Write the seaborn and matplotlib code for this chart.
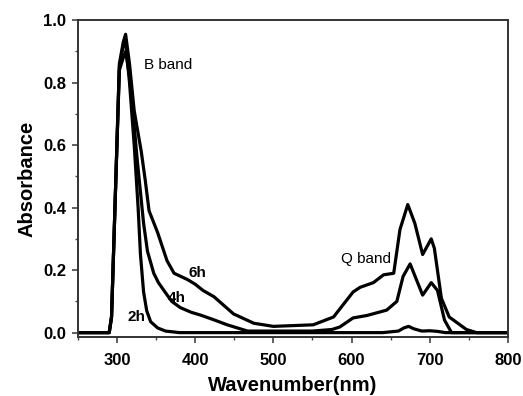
import numpy as np
import pandas as pd
import matplotlib
matplotlib.use("Agg")
import matplotlib.pyplot as plt
from matplotlib.ticker import MultipleLocator
import seaborn as sns

# ---- data ----
wl_2h = [250, 290, 293, 298, 303, 308, 311, 316, 322, 327, 330, 334, 338, 343, 352, 362, 380, 450,
         550, 600, 640, 660, 667, 673, 680, 690, 700, 710, 720, 800]
a_2h = [0.0, 0.0, 0.05, 0.45, 0.85, 0.92, 0.93, 0.80, 0.60, 0.40, 0.25, 0.13, 0.07, 0.035, 0.015,
        0.005, 0.0, 0.0, 0.0, 0.0, 0.0, 0.005, 0.015, 0.02, 0.012, 0.005, 0.006, 0.004, 0.0, 0.0]

wl_4h = [250, 290, 293, 298, 303, 308, 311, 316, 322, 326, 330, 334, 339, 347, 353, 360, 370, 381,
         395, 407, 425, 441, 467, 500, 550, 575, 585, 602, 620, 645, 658, 666, 675, 683, 691, 702,
         710, 719, 728, 800]
a_4h = [0.0, 0.0, 0.05, 0.45, 0.84, 0.88, 0.90, 0.82, 0.66, 0.55, 0.45, 0.35, 0.26, 0.19, 0.16,
        0.135, 0.10, 0.08, 0.065, 0.056, 0.04, 0.025, 0.005, 0.005, 0.005, 0.01, 0.018, 0.047,
        0.055, 0.072, 0.10, 0.18, 0.22, 0.17, 0.12, 0.16, 0.135, 0.04, 0.0, 0.0]

wl_6h = [250, 290, 293, 298, 303, 308, 311, 316, 322, 331, 336, 341, 352, 364, 373, 390, 400, 410,
         424, 449, 475, 500, 551, 577, 602, 611, 628, 641, 654, 662, 672, 681, 691, 702, 706, 715,
         725, 747, 760, 800]
a_6h = [0.0, 0.0, 0.05, 0.45, 0.86, 0.93, 0.955, 0.86, 0.71, 0.58, 0.49, 0.39, 0.32, 0.23, 0.19,
        0.17, 0.155, 0.135, 0.115, 0.06, 0.03, 0.02, 0.025, 0.05, 0.13, 0.145, 0.16, 0.185, 0.19,
        0.33, 0.41, 0.35, 0.25, 0.30, 0.27, 0.11, 0.05, 0.01, 0.0, 0.0]

series_names = ["2 h", "4 h", "6 h"]
x_ticks = [300, 400, 500, 600, 700, 800]
y_ticks = [0.0, 0.2, 0.4, 0.6, 0.8, 1.0]

df = pd.concat([
    pd.DataFrame({"wl": wl_2h, "A": a_2h, "series": series_names[0]}),
    pd.DataFrame({"wl": wl_4h, "A": a_4h, "series": series_names[1]}),
    pd.DataFrame({"wl": wl_6h, "A": a_6h, "series": series_names[2]}),
])

sns.set_style("ticks")
plt.rcParams["font.family"] = ["Liberation Sans", "DejaVu Sans"]
plt.rcParams["text.color"] = "black"
plt.rcParams["axes.labelcolor"] = "black"
plt.rcParams["xtick.color"] = "black"
plt.rcParams["ytick.color"] = "black"

fig = plt.figure(figsize=(5.23, 3.96), dpi=100)
ax = fig.add_axes([0.149, 0.149, 0.822, 0.800])

sns.lineplot(data=df, x="wl", y="A", hue="series", units="series", estimator=None,
             palette=["black"] * 3, linewidth=2.3, legend=False, ax=ax, sort=True)

ax.set_xlim(250, 800)
ax.set_ylim(-0.014, 1.0)
ax.set_xticks(x_ticks)
ax.set_yticks(y_ticks)
ax.set_xticklabels([str(t) for t in x_ticks], fontweight="bold", fontsize=12)
ax.set_yticklabels([f"{t:.1f}" for t in y_ticks], fontweight="bold", fontsize=12)
ax.xaxis.set_minor_locator(MultipleLocator(50))
ax.yaxis.set_minor_locator(MultipleLocator(0.1))
ax.tick_params(which="major", direction="out", length=4.5, width=1.2, color="#444444")
ax.tick_params(which="minor", direction="out", length=2.5, width=1.0, color="#444444")
ax.tick_params(axis="x", which="major", pad=7)
ax.tick_params(axis="y", which="major", pad=4)

for side in ["left", "bottom", "top", "right"]:
    ax.spines[side].set_visible(True)
    ax.spines[side].set_linewidth(1.4)
    ax.spines[side].set_color("#333333")

ax.set_xlabel("Wavenumber(nm)", fontsize=14.5, fontweight="bold", labelpad=6)
ax.set_ylabel("Absorbance", fontsize=14.5, fontweight="bold", labelpad=5)

ax.text(335, 0.855, "B band", fontsize=11, va="center", ha="left")
ax.text(587, 0.237, "Q band", fontsize=11, va="center", ha="left")
ax.text(392, 0.19, "6h", fontsize=11, fontweight="bold", va="center", ha="left")
ax.text(365, 0.11, "4h", fontsize=11, fontweight="bold", va="center", ha="left")
ax.text(314, 0.05, "2h", fontsize=11, fontweight="bold", va="center", ha="left")

fig.savefig("out.png", dpi=100)
